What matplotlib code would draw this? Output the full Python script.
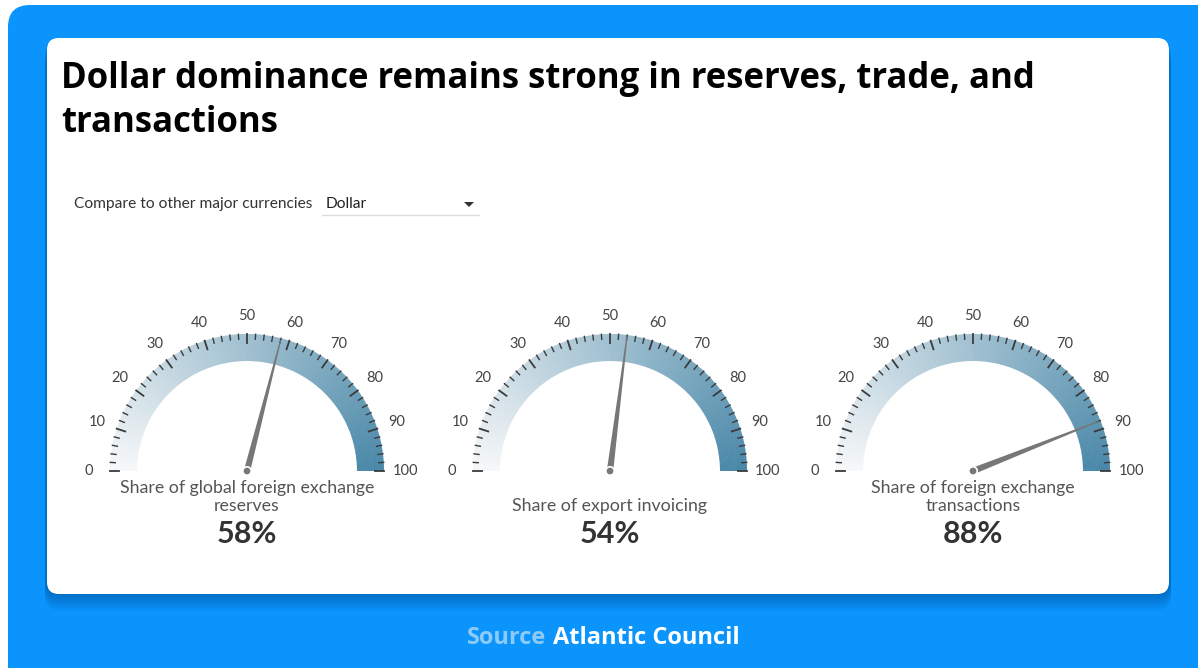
import matplotlib.pyplot as plt
import numpy as np
from matplotlib.patches import FancyBboxPatch, Polygon, Circle
from matplotlib.colors import to_rgb

plt.rcParams['font.family'] = ['Lato', 'DejaVu Sans']

# data
gauge_labels = ["Share of global foreign exchange\nreserves",
                "Share of export invoicing",
                "Share of foreign exchange\ntransactions"]
gauge_values = [58, 54, 88]
tick_values = list(range(0, 101, 10))
currency = "Dollar"

title_lines = ["Dollar dominance remains strong in reserves, trade, and",
               "transactions"]

W, H = 1198, 668
fig = plt.figure(figsize=(W / 100, H / 100), dpi=100)
ax = fig.add_axes([0, 0, 1, 1])
ax.set_xlim(0, W)
ax.set_ylim(H, 0)
ax.axis('off')

BLUE = '#0a94fc'

# outer blue frame
ax.add_patch(FancyBboxPatch((8, 5), W + 40, H + 40,
                            boxstyle="round,pad=0,rounding_size=22",
                            fc=BLUE, ec='none', zorder=0))
# card shadow
for i in range(7):
    off = 1 + i * 2.5
    ax.add_patch(FancyBboxPatch((47 - 2, 38 + off), 1122 + 4, 556,
                                boxstyle="round,pad=0,rounding_size=14",
                                fc='#00306e', ec='none', alpha=0.06, zorder=1))
# white card
ax.add_patch(FancyBboxPatch((47, 38), 1122, 556,
                            boxstyle="round,pad=0,rounding_size=12",
                            fc='white', ec='none', zorder=2))

# title
tfont = ['Open Sans', 'DejaVu Sans']
ax.text(61, 88, title_lines[0], fontsize=25, fontweight='bold', family=tfont,
        color='black', va='baseline', zorder=5)
ax.text(61, 132, title_lines[1], fontsize=25, fontweight='bold', family=tfont,
        color='black', va='baseline', zorder=5)

# dropdown
ax.text(74, 204, "Compare to other major currencies", fontsize=11.2,
        color='#333333', va='center', zorder=5)
ax.text(326, 204, currency, fontsize=11.2, color='#222222',
        va='center', zorder=5)
ax.plot([322, 479], [215, 215], color='#dddddd', lw=1, zorder=5)
ax.add_patch(Polygon([[464, 202], [474, 202], [469, 207]],
                     closed=True, fc='#333333', ec='none', zorder=5))

# source
ax.text(546, 638, "Source", fontsize=17, fontweight='bold', family=tfont,
        color='#8ccaf7', ha='right', va='center', zorder=5)
ax.text(553, 638, "Atlantic Council", fontsize=17, fontweight='bold',
        family=tfont, color='white', ha='left', va='center', zorder=5)

# gauges
centers = [247, 610, 973]
cy = 471
r_out, r_in = 137, 110
c0 = np.array(to_rgb('#f7f8f9'))
c1 = np.array(to_rgb('#4a88a8'))


def ang(v):
    return np.pi * (1 - v / 100.0)


def pt(cx, r, v):
    t = ang(v)
    return cx + r * np.cos(t), cy - r * np.sin(t)


for cx, label, value in zip(centers, gauge_labels, gauge_values):
    # gradient band
    n = 200
    for k in range(n):
        v0 = 100 * k / n
        v1 = 100 * (k + 1) / n + 0.15
        vs = np.linspace(v0, min(v1, 100), 4)
        outer = [pt(cx, r_out, v) for v in vs]
        inner = [pt(cx, r_in, v) for v in vs[::-1]]
        col = c0 + (c1 - c0) * ((v0 + 0.25) / 100)
        ax.add_patch(Polygon(outer + inner, closed=True, fc=col,
                             ec='none', zorder=3))
    # ticks
    for v in range(0, 101, 2):
        length = 9 if v % 10 == 0 else 5
        x0, y0 = pt(cx, r_out, v)
        x1, y1 = pt(cx, r_out - length, v)
        ax.plot([x0, x1], [y0, y1], color='#3a3a3a',
                lw=1.3 if v % 10 == 0 else 1.0, zorder=4)
    # tick labels
    for v in tick_values:
        r = 155 + 3 * abs(np.cos(ang(v)))
        x, y = pt(cx, r, v)
        ax.text(x, y, str(v), fontsize=10.5, color='#444444',
                ha='center', va='center', zorder=5)
    # needle
    t = ang(value)
    tip = (cx + 135 * np.cos(t), cy - 135 * np.sin(t))
    px, py = -np.sin(t), -np.cos(t)
    hw = 3.2
    base1 = (cx + hw * px, cy + hw * py)
    base2 = (cx - hw * px, cy - hw * py)
    tw = 0.6
    tip1 = (tip[0] + tw * px, tip[1] + tw * py)
    tip2 = (tip[0] - tw * px, tip[1] - tw * py)
    ax.add_patch(Polygon([base1, tip1, tip2, base2], closed=True,
                         fc='#777777', ec='none', zorder=6))
    ax.add_patch(Circle((cx, cy), 4.2, fc='#777777', ec='white',
                        lw=1.2, zorder=7))
    # labels
    ax.text(cx, 514, label, fontsize=12.8, color='#555555',
            ha='center', va='bottom', linespacing=1.15, zorder=5)
    ax.text(cx, 534, f"{value}%", fontsize=22, fontweight='bold',
            color='#333333', ha='center', va='center', zorder=5)

fig.savefig('out.png', dpi=100, facecolor='white')
